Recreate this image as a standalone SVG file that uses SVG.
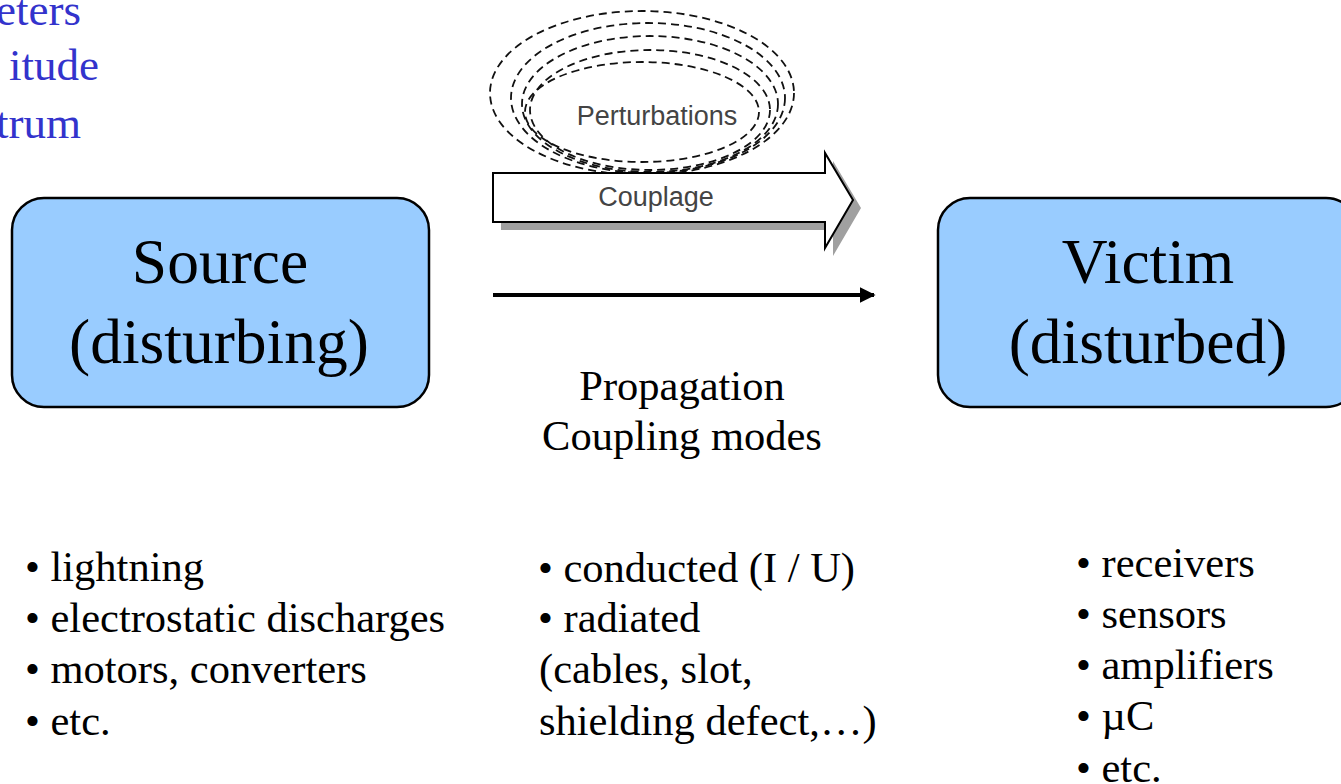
<svg xmlns="http://www.w3.org/2000/svg" width="1341" height="784" viewBox="0 0 1341 784">
<defs>
<style>
.blue{font-family:"Liberation Serif",serif;font-size:45px;fill:#3333cc}
.box{fill:#99ccff;stroke:#000;stroke-width:2.5}
.big{font-family:"Liberation Serif",serif;font-size:63.5px;fill:#000;text-anchor:middle}
.mid{font-family:"Liberation Serif",serif;font-size:42.5px;fill:#000}
.lbl{font-family:"Liberation Sans",Arial,sans-serif;font-size:27px;fill:#444;text-anchor:middle}
.dash{fill:none;stroke:#111;stroke-width:1.8;stroke-dasharray:8 5}
</style>
<marker id="ah" viewBox="0 0 10 10" refX="9" refY="5" markerWidth="4" markerHeight="4" orient="auto" markerUnits="strokeWidth">
<path d="M0,0 L10,5 L0,10 z" fill="#000"/>
</marker>
</defs>
<rect width="1341" height="784" fill="#fff"/>
<g id="params">
<text class="blue" x="81" y="25" text-anchor="end">eters</text>
<text class="blue" x="99" y="80" text-anchor="end">itude</text>
<text class="blue" x="81" y="138" text-anchor="end">trum</text>
</g>
<g id="source">
<rect class="box" x="12" y="198" width="417" height="209" rx="32"/>
<text class="big" x="220" y="283">Source</text>
<text class="big" x="219" y="363">(disturbing)</text>
</g>
<g id="victim">
<rect class="box" x="938" y="198" width="420" height="209" rx="32"/>
<text class="big" x="1148" y="283">Victim</text>
<text class="big" x="1148" y="363">(disturbed)</text>
</g>
<g id="coupling-figure">
<ellipse class="dash" cx="642" cy="93" rx="152" ry="82"/>
<ellipse class="dash" cx="648" cy="98" rx="137" ry="75"/>
<ellipse class="dash" cx="650" cy="104" rx="128" ry="68"/>
<ellipse class="dash" cx="650" cy="110" rx="120" ry="60"/>
<ellipse class="dash" cx="642" cy="112" rx="117" ry="50"/>
<path d="M501,181 H833 V161 L861,208 L833,256 V230 H501 Z" fill="#888" opacity="0.8"/>
<path d="M493,173 H825 V153 L853,200 L825,248 V222 H493 Z" fill="#fff" stroke="#000" stroke-width="2"/>
<text class="lbl" x="657" y="125">Perturbations</text>
<text class="lbl" x="656" y="206">Couplage</text>
</g>
<g id="connectors">
<line x1="493" y1="295" x2="874" y2="295" stroke="#000" stroke-width="4" marker-end="url(#ah)"/>
</g>
<g id="propagation">
<text class="mid" x="682" y="400" text-anchor="middle">Propagation</text>
<text class="mid" x="682" y="450" text-anchor="middle">Coupling modes</text>
</g>
<g id="source-list" class="mid">
<text x="25" y="581">• lightning</text>
<text x="25" y="632">• electrostatic discharges</text>
<text x="25" y="683">• motors, converters</text>
<text x="25" y="735">• etc.</text>
</g>
<g id="coupling-list" class="mid">
<text x="538" y="582">• conducted (I / U)</text>
<text x="538" y="632">• radiated</text>
<text x="539" y="683">(cables, slot,</text>
<text x="539" y="735">shielding defect,…)</text>
</g>
<g id="victim-list" class="mid">
<text x="1076" y="577">• receivers</text>
<text x="1076" y="628">• sensors</text>
<text x="1076" y="679">• amplifiers</text>
<text x="1076" y="730">• µC</text>
<text x="1076" y="782">• etc.</text>
</g>
</svg>
